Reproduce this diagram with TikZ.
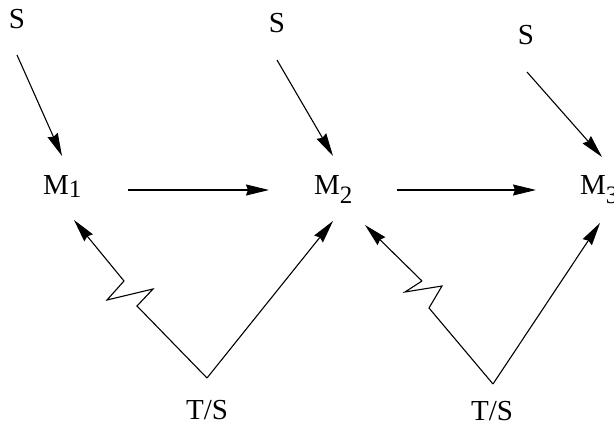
\documentclass[tikz,border=0pt]{standalone}
\usepackage{fontspec}
\setmainfont{Liberation Serif}
\usetikzlibrary{arrows.meta}

\begin{document}
\begin{tikzpicture}[
      x=1pt, y=-1pt,
      >={Stealth[length=23pt, width=11pt, inset=2pt]},
      lbl/.style={font=\fontsize{29}{34}\selectfont, inner sep=0pt, anchor=base},
      mach/.style={lbl, anchor=base west},
      flow/.style={->, line width=1.1pt},
      wire/.style={line width=1.1pt, line join=miter}
    ]
    \useasboundingbox (0,0) rectangle (614,425);

    % labels
    \node[lbl] (s1) at (17,29) {S};
    \node[lbl] (s2) at (277,33) {S};
    \node[lbl] (s3) at (526,45) {S};
    \node[mach] (m1) at (43,195) {M\raisebox{-3pt}{\fontsize{25}{25}\selectfont 1}};
    \node[mach] (m2) at (314,195) {M\raisebox{-9pt}{\fontsize{25}{25}\selectfont 2}};
    \node[mach] (m3) at (580,195) {M\raisebox{-9pt}{\fontsize{25}{25}\selectfont 3}};
    \node[lbl] (ts1) at (207,419) {T/S};
    \node[lbl] (ts2) at (492,420) {T/S};

    % free ends
    \coordinate (s1out) at (17,55);   \coordinate (m1top) at (62,156);
    \coordinate (s2out) at (277,60);  \coordinate (m2top) at (333,156);
    \coordinate (s3out) at (527,72);  \coordinate (m3top) at (602,157);
    \coordinate (m1out) at (128,190); \coordinate (m2in) at (269,190);
    \coordinate (m2out) at (397,190); \coordinate (m3in) at (536,190);
    \coordinate (m1low) at (74,220);  \coordinate (m2lowl) at (333,221);
    \coordinate (m2lowr) at (365,225); \coordinate (m3low) at (600,223);
    \coordinate (v1) at (207,378);    \coordinate (v2) at (493,384);

    % supply
    \draw[flow] (s1out) -- (m1top);
    \draw[flow] (s2out) -- (m2top);
    \draw[flow] (s3out) -- (m3top);

    % line
    \draw[flow] (m1out) -- (m2in);
    \draw[flow] (m2out) -- (m3in);

    % transfer / scrap
    \draw[wire] (v1) -- (137,306) -- (153,289) -- (107,300) -- (124,281);
    \draw[flow] (124,281) -- (m1low);
    \draw[flow] (v1) -- (m2lowl);
    \draw[wire] (v2) -- (429,308) -- (442,286) -- (405,292) -- (422,281);
    \draw[flow] (422,281) -- (m2lowr);
    \draw[flow] (v2) -- (m3low);

  \end{tikzpicture}
\end{document}
